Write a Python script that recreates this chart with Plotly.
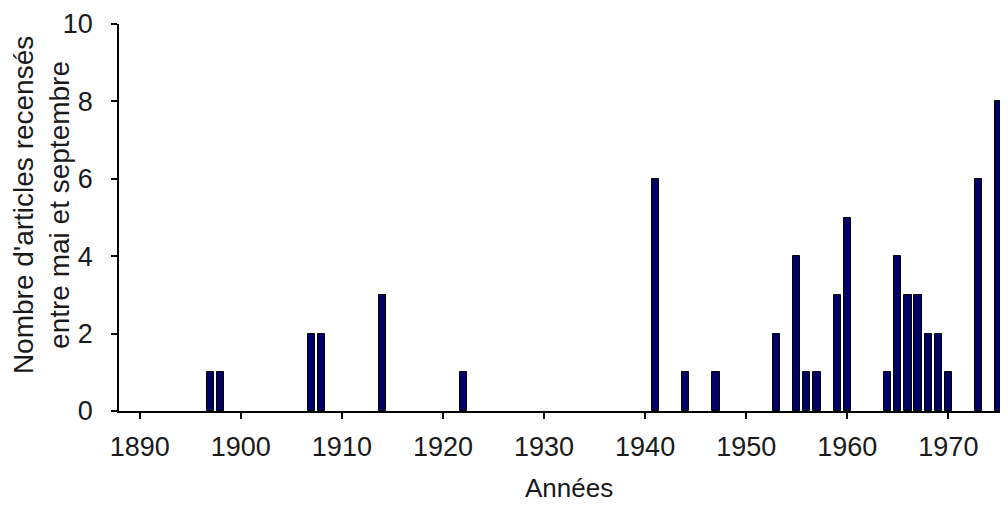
import plotly.graph_objects as go

years = [1897, 1898, 1907, 1908, 1914, 1922, 1941, 1944, 1947, 1953, 1955, 1956,
         1957, 1959, 1960, 1964, 1965, 1966, 1967, 1968, 1969, 1970, 1973, 1975]
counts = [1, 1, 2, 2, 3, 1, 6, 1, 1, 2, 4, 1,
          1, 3, 5, 1, 4, 3, 3, 2, 2, 1, 6, 8]
x_ticks = [1890, 1900, 1910, 1920, 1930, 1940, 1950, 1960, 1970]
y_ticks = [0, 2, 4, 6, 8, 10]
x_title = "Années"
y_title = "Nombre d'articles recensés<br>entre mai et septembre"

FONT = "Arial, Liberation Sans, sans-serif"

fig = go.Figure(go.Bar(
    x=years, y=counts, width=0.72,
    marker=dict(color="#000066", line=dict(color="#000000", width=1)),
))

# page body has an 8px margin: figure is shifted by 8px, so size/margins compensate
fig.update_layout(
    width=1000, height=497,
    margin=dict(l=111, r=0, t=16, b=94),
    plot_bgcolor="white", paper_bgcolor="white",
    font=dict(family=FONT, size=27, color="#1a1a1a"),
    showlegend=False,
    bargap=0,
)
fig.update_xaxes(
    range=[1887.95, 1975.9],
    tickvals=x_ticks, ticktext=[str(v) for v in x_ticks],
    ticks="outside", ticklen=6, tickwidth=1.5, tickcolor="#000",
    showline=True, linecolor="#000", linewidth=1.5,
    showgrid=False, zeroline=False,
    tickfont=dict(size=27),
    ticklabelstandoff=5,
    automargin=False,
)
fig.update_yaxes(
    range=[0, 10],
    tickvals=y_ticks,
    ticks="outside", ticklen=6, tickwidth=1.5, tickcolor="#000",
    showline=True, linecolor="#000", linewidth=1.5,
    showgrid=False, zeroline=False,
    tickfont=dict(size=27),
    ticklabelstandoff=13,
    automargin=False,
)

# axis titles placed as annotations for exact positioning
fig.add_annotation(
    text=x_title, xref="paper", yref="paper", x=0.506, y=0,
    xanchor="center", yanchor="middle", yshift=-77, showarrow=False,
    font=dict(size=26), borderpad=0,
)
fig.add_annotation(
    text=y_title, xref="paper", yref="paper", x=0, y=0.532,
    xanchor="center", yanchor="middle", xshift=-78, textangle=-90,
    showarrow=False, font=dict(size=28),
)

fig.write_html("out.html")
